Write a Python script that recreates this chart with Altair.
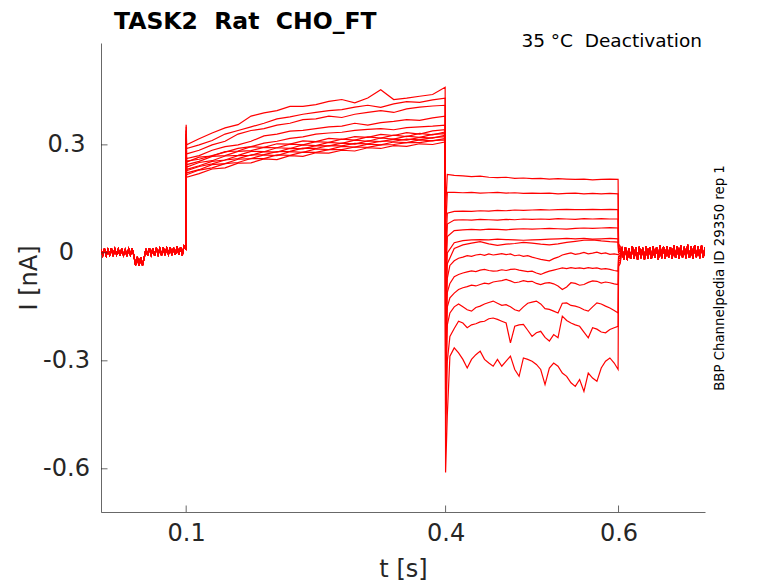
import altair as alt
import pandas as pd

# ---------------- data ----------------
X_TICKS = [0.1, 0.4, 0.6]
Y_TICKS = [-0.6, -0.3, 0.0, 0.3]

# shared holding-level noise band (0.0015 .. 0.0995 s, every 2 ms)
BASE_V = [0.010, -0.007, 0.012, -0.008, 0.009, -0.006, 0.013, -0.009, 0.011, -0.005,
          0.010, -0.008, 0.012, -0.007, 0.009, -0.009, 0.011, -0.006, 0.012, -0.008,
          -0.034, -0.011, -0.036, -0.012, -0.035, -0.013,
          0.011, -0.007, 0.013, -0.006, 0.012, -0.008, 0.014, -0.005, 0.012, -0.007,
          0.015, -0.006, 0.013, -0.004, 0.016, -0.006, 0.014, -0.005, 0.017, -0.004,
          0.015, -0.007, 0.019, 0.012]

# shared tail noise band (0.604 .. 0.700 s, every 2 ms)
TAIL_V = [0.014, -0.018, 0.016, -0.020, 0.013, -0.017, 0.018, -0.016, 0.015, -0.019,
          0.017, -0.015, 0.014, -0.018, 0.019, -0.016, 0.016, -0.017, 0.018, -0.014,
          0.015, -0.018, 0.020, -0.015, 0.017, -0.016, 0.019, -0.013, 0.016, -0.017,
          0.021, -0.014, 0.018, -0.016, 0.020, -0.013, 0.017, -0.015, 0.022, -0.014,
          0.019, -0.016, 0.021, -0.012, 0.018, -0.015, 0.020, -0.013, 0.016]

# capacitive spike at 0.1 s, transient minimum at 0.4 s, tail start at 0.6 / 0.602 s
SPIKE = [0.29, 0.30, 0.30, 0.31, 0.31, 0.32, 0.32, 0.33, 0.33, 0.34, 0.34, 0.35, 0.356]
TMIN = [0.12, 0.06, 0.0, -0.05, -0.10, -0.15, -0.20, -0.26, -0.32, -0.38, -0.45, -0.52, -0.61]
TAIL0 = [0.025, 0.020, 0.015, 0.012, 0.010, 0.005, 0.0, -0.005, -0.010, -0.015, -0.022, -0.030, -0.038]
TAIL1 = [0.018, 0.014, 0.010, 0.008, 0.005, 0.002, -0.003, -0.008, -0.012, -0.016, -0.020, -0.025, -0.030]

# prepulse (0.1005, 0.115 ... 0.385 every 15 ms, 0.3995 s)
PRE_1 = [0.252, 0.266, 0.269, 0.281, 0.283, 0.295, 0.293, 0.303, 0.302, 0.311, 0.309, 0.318, 0.315, 0.323, 0.321, 0.329, 0.326, 0.334, 0.330, 0.339, 0.342]
PRE_2 = [0.245, 0.254, 0.268, 0.270, 0.282, 0.284, 0.293, 0.292, 0.302, 0.300, 0.309, 0.307, 0.316, 0.313, 0.322, 0.319, 0.327, 0.323, 0.332, 0.328, 0.336]
PRE_3 = [0.238, 0.251, 0.256, 0.269, 0.271, 0.282, 0.281, 0.292, 0.290, 0.300, 0.298, 0.307, 0.304, 0.313, 0.310, 0.319, 0.316, 0.324, 0.321, 0.329, 0.331]
PRE_4 = [0.232, 0.242, 0.254, 0.258, 0.270, 0.271, 0.281, 0.280, 0.290, 0.289, 0.298, 0.297, 0.305, 0.302, 0.311, 0.309, 0.316, 0.313, 0.321, 0.319, 0.327]
PRE_5 = [0.228, 0.240, 0.247, 0.258, 0.262, 0.272, 0.273, 0.281, 0.282, 0.291, 0.290, 0.298, 0.297, 0.304, 0.303, 0.310, 0.310, 0.316, 0.314, 0.320, 0.323]
PRE_6 = [0.222, 0.231, 0.245, 0.248, 0.260, 0.262, 0.272, 0.270, 0.281, 0.279, 0.289, 0.287, 0.296, 0.294, 0.302, 0.300, 0.308, 0.306, 0.314, 0.311, 0.318]
PRE_7 = [0.217, 0.230, 0.236, 0.248, 0.251, 0.262, 0.262, 0.272, 0.271, 0.280, 0.279, 0.287, 0.287, 0.294, 0.293, 0.300, 0.301, 0.306, 0.306, 0.312, 0.314]
PRE_8 = [0.210, 0.220, 0.233, 0.236, 0.249, 0.250, 0.261, 0.259, 0.270, 0.268, 0.278, 0.277, 0.285, 0.283, 0.292, 0.290, 0.298, 0.296, 0.303, 0.301, 0.308]
PRE_9 = [0.255, 0.260, 0.270, 0.280, 0.290, 0.295, 0.305, 0.310, 0.318, 0.322, 0.330, 0.333, 0.335, 0.340, 0.343, 0.345, 0.342, 0.348, 0.350, 0.352, 0.355]
PRE_10 = [0.262, 0.270, 0.285, 0.295, 0.300, 0.310, 0.325, 0.330, 0.338, 0.340, 0.345, 0.350, 0.352, 0.360, 0.355, 0.362, 0.365, 0.370, 0.368, 0.375, 0.380]
PRE_11 = [0.275, 0.285, 0.300, 0.310, 0.330, 0.340, 0.345, 0.355, 0.360, 0.370, 0.372, 0.380, 0.376, 0.385, 0.390, 0.395, 0.390, 0.400, 0.405, 0.408, 0.410]
PRE_12 = [0.290, 0.300, 0.312, 0.330, 0.340, 0.350, 0.360, 0.372, 0.378, 0.385, 0.390, 0.395, 0.398, 0.405, 0.410, 0.404, 0.414, 0.420, 0.418, 0.425, 0.430]
PRE_13 = [0.300, 0.317, 0.333, 0.347, 0.356, 0.380, 0.389, 0.395, 0.407, 0.407, 0.412, 0.421, 0.426, 0.417, 0.430, 0.453, 0.426, 0.430, 0.435, 0.440, 0.460]

# test pulse, coarse (0.402, 0.41 ... 0.59, 0.5995 s)
TEST_1 = [0.218, 0.215, 0.214, 0.212, 0.213, 0.210, 0.209, 0.210, 0.207, 0.208, 0.206, 0.207, 0.205, 0.206, 0.205, 0.204, 0.205, 0.203, 0.204, 0.205, 0.204]
TEST_2 = [0.168, 0.168, 0.167, 0.168, 0.166, 0.167, 0.168, 0.166, 0.167, 0.165, 0.166, 0.165, 0.166, 0.164, 0.165, 0.166, 0.164, 0.165, 0.164, 0.165, 0.164]
TEST_3 = [0.110, 0.115, 0.116, 0.115, 0.117, 0.116, 0.118, 0.117, 0.119, 0.118, 0.119, 0.120, 0.119, 0.120, 0.121, 0.120, 0.120, 0.121, 0.120, 0.121, 0.120]
TEST_4 = [0.080, 0.091, 0.092, 0.091, 0.093, 0.092, 0.091, 0.093, 0.092, 0.094, 0.093, 0.094, 0.093, 0.095, 0.094, 0.093, 0.095, 0.094, 0.095, 0.094, 0.094]
TEST_5 = [0.045, 0.062, 0.064, 0.065, 0.064, 0.066, 0.065, 0.064, 0.066, 0.067, 0.066, 0.067, 0.068, 0.067, 0.066, 0.068, 0.069, 0.068, 0.069, 0.070, 0.069]
TEST_6 = [0.000, 0.028, 0.034, 0.036, 0.037, 0.036, 0.038, 0.037, 0.036, 0.035, 0.036, 0.037, 0.038, 0.039, 0.040, 0.039, 0.040, 0.038, 0.039, 0.040, 0.039]
TEST_7 = [-0.030, 0.012, 0.022, 0.027, 0.031, 0.025, 0.021, 0.024, 0.026, 0.029, 0.027, 0.024, 0.022, 0.025, 0.029, 0.032, 0.035, 0.036, 0.033, 0.031, 0.030]
# test pulse, fine (0.402, 0.405, 0.41 ... 0.595, 0.5995 s)
TEST_8 = [-0.070, -0.035, -0.022, -0.015, -0.012, -0.008, -0.010, -0.006, -0.004, -0.007, -0.003, -0.006,
          -0.004, -0.002, -0.005, -0.003, -0.008, -0.006, -0.010, -0.008, -0.012, -0.015,
          -0.018, -0.020, -0.022, -0.016, -0.012, -0.006, -0.003, 0.000, -0.004, -0.002,
          0.001, -0.003, -0.001, 0.002, -0.002, 0.000, -0.004, -0.003, -0.005]
TEST_9 = [-0.110, -0.085, -0.066, -0.060, -0.056, -0.053, -0.050, -0.052, -0.048, -0.046, -0.049, -0.051,
          -0.050, -0.047, -0.049, -0.046, -0.045, -0.048, -0.050, -0.052, -0.051, -0.056,
          -0.060, -0.055, -0.051, -0.048, -0.045, -0.042, -0.044, -0.041, -0.043, -0.042,
          -0.044, -0.041, -0.043, -0.042, -0.045, -0.044, -0.046, -0.049, -0.051]
TEST_10 = [-0.150, -0.125, -0.112, -0.102, -0.097, -0.094, -0.090, -0.092, -0.088, -0.084, -0.086, -0.081,
           -0.079, -0.077, -0.074, -0.078, -0.083, -0.081, -0.077, -0.080, -0.079, -0.085,
           -0.088, -0.084, -0.083, -0.086, -0.092, -0.102, -0.095, -0.083, -0.085, -0.090,
           -0.088, -0.082, -0.078, -0.079, -0.084, -0.081, -0.083, -0.086, -0.088]
TEST_11 = [-0.200, -0.167, -0.150, -0.142, -0.150, -0.158, -0.162, -0.152, -0.148, -0.142, -0.138, -0.134,
           -0.140, -0.146, -0.144, -0.150, -0.158, -0.162, -0.150, -0.140, -0.137, -0.134,
           -0.142, -0.155, -0.157, -0.162, -0.167, -0.140, -0.139, -0.146, -0.148, -0.152,
           -0.158, -0.162, -0.150, -0.139, -0.142, -0.148, -0.153, -0.160, -0.167]
TEST_12 = [-0.300, -0.232, -0.210, -0.190, -0.195, -0.208, -0.200, -0.197, -0.192, -0.190, -0.183, -0.181,
           -0.185, -0.190, -0.195, -0.250, -0.204, -0.200, -0.199, -0.215, -0.232, -0.222,
           -0.218, -0.235, -0.245, -0.227, -0.236, -0.176, -0.188, -0.195, -0.200, -0.204,
           -0.220, -0.236, -0.208, -0.212, -0.220, -0.222, -0.213, -0.208, -0.204]
TEST_13 = [-0.450, -0.287, -0.264, -0.278, -0.296, -0.320, -0.296, -0.283, -0.273, -0.296, -0.306, -0.315,
           -0.296, -0.315, -0.301, -0.287, -0.324, -0.343, -0.292, -0.296, -0.301, -0.310,
           -0.324, -0.366, -0.320, -0.306, -0.315, -0.334, -0.343, -0.361, -0.371, -0.352,
           -0.385, -0.334, -0.348, -0.357, -0.320, -0.301, -0.292, -0.306, -0.324]

PRE = [PRE_1, PRE_2, PRE_3, PRE_4, PRE_5, PRE_6, PRE_7, PRE_8, PRE_9, PRE_10, PRE_11, PRE_12, PRE_13]
TEST = [TEST_1, TEST_2, TEST_3, TEST_4, TEST_5, TEST_6, TEST_7, TEST_8, TEST_9, TEST_10, TEST_11, TEST_12, TEST_13]

# sampling times
BASE_T = [round(0.0015 + 0.002 * k, 4) for k in range(len(BASE_V))]
TAIL_T = [round(0.604 + 0.002 * k, 4) for k in range(len(TAIL_V))]
PRE_T = [0.1005] + [round(0.115 + 0.015 * k, 4) for k in range(19)] + [0.3995]
TEST_T_COARSE = [0.402] + [round(0.41 + 0.01 * k, 4) for k in range(19)] + [0.5995]
TEST_T_FINE = [0.402, 0.405] + [round(0.41 + 0.005 * k, 4) for k in range(38)] + [0.5995]

rows = []
for i in range(13):
    seq = list(zip(BASE_T, BASE_V))
    seq.append((0.1, SPIKE[i]))
    seq += list(zip(PRE_T, PRE[i]))
    seq.append((0.4, TMIN[i]))
    grid = TEST_T_FINE if len(TEST[i]) == len(TEST_T_FINE) else TEST_T_COARSE
    seq += list(zip(grid, TEST[i]))
    seq.append((0.6, TAIL0[i]))
    seq.append((0.602, TAIL1[i]))
    seq += list(zip(TAIL_T, TAIL_V))
    for k, (t, v) in enumerate(seq):
        rows.append({"sweep": i + 1, "k": k, "t": t, "I": v})
df = pd.DataFrame(rows)

# ---------------- styling ----------------
F = "DejaVu Sans"
AX = "#262626"
W, H = 604, 469

xs = alt.Scale(domain=[0.0015, 0.7], nice=False, zero=False)
ys = alt.Scale(domain=[-0.72, 0.583], nice=False, zero=False)

xaxis = alt.Axis(values=X_TICKS, format=".1f", ticks=False, grid=False,
                 domainColor=AX, domainWidth=0.7, labelFont=F, labelFontSize=24,
                 labelColor=AX, labelPadding=9, labelFlush=False, labelOverlap=False,
                 title="t [s]", titleFont=F, titleFontSize=24, titleFontWeight="normal",
                 titleColor=AX, titleX=W / 2, titleY=64, titleBaseline="alphabetic",
                 titleAlign="center")
yaxis = alt.Axis(values=Y_TICKS,
                 labelExpr="datum.value < 0 ? '-' + format(-datum.value, '.1f') : (datum.value == 0 ? '0' : format(datum.value, '.1f'))",
                 ticks=False, grid=False, domainColor=AX, domainWidth=0.7,
                 labelFont=F, labelFontSize=24, labelColor=AX, labelPadding=35,
                 labelAlign="center", labelOverlap=False, labelFlush=False,
                 title="I [nA]", titleFont=F, titleFontSize=24, titleFontWeight="normal",
                 titleColor=AX, titleAngle=270, titleX=-65, titleY=H / 2,
                 titleBaseline="alphabetic", titleAlign="center")

X = alt.X("t:Q", scale=xs, axis=xaxis)
Y = alt.Y("I:Q", scale=ys, axis=yaxis)

lines = alt.Chart(df).mark_line(color="#ff0000", strokeWidth=1.2, clip=True).encode(
    x=X, y=Y, detail="sweep:N", order="k:Q")

xticks = alt.Chart(pd.DataFrame({"t": X_TICKS})).mark_rule(color=AX, strokeWidth=0.7).encode(
    x=X, y=alt.value(H), y2=alt.value(H - 6.5))
yticks = alt.Chart(pd.DataFrame({"I": Y_TICKS})).mark_rule(color=AX, strokeWidth=0.7).encode(
    y=Y, x=alt.value(0), x2=alt.value(6.5))

title = alt.Chart(pd.DataFrame({"s": ["TASK2\u00a0 Rat\u00a0 CHO_FT"]})).mark_text(
    font=F, fontSize=23.5, fontWeight="bold", color="#000000", align="left",
    baseline="alphabetic").encode(x=alt.value(13), y=alt.value(-14.5), text="s:N")
cond = alt.Chart(pd.DataFrame({"s": ["35 \u00b0C\u00a0 Deactivation"]})).mark_text(
    font=F, fontSize=18.5, color="#000000", align="right",
    baseline="alphabetic").encode(x=alt.value(601), y=alt.value(4.3), text="s:N")
ident = alt.Chart(pd.DataFrame({"s": ["BBP Channelpedia ID 29350 rep 1"]})).mark_text(
    font=F, fontSize=13.3, color="#000000", align="center", angle=270,
    baseline="alphabetic").encode(x=alt.value(623), y=alt.value(235), text="s:N")

chart = alt.layer(lines, xticks, yticks, title, cond, ident).properties(
    width=W, height=H,
    autosize=alt.AutoSizeParams(type="none"),
    padding={"left": 93, "top": 35, "right": 60, "bottom": 70},
    background="white",
).configure_view(stroke=None)

chart.save("out.html", embed_options={"renderer": "svg", "actions": False})
